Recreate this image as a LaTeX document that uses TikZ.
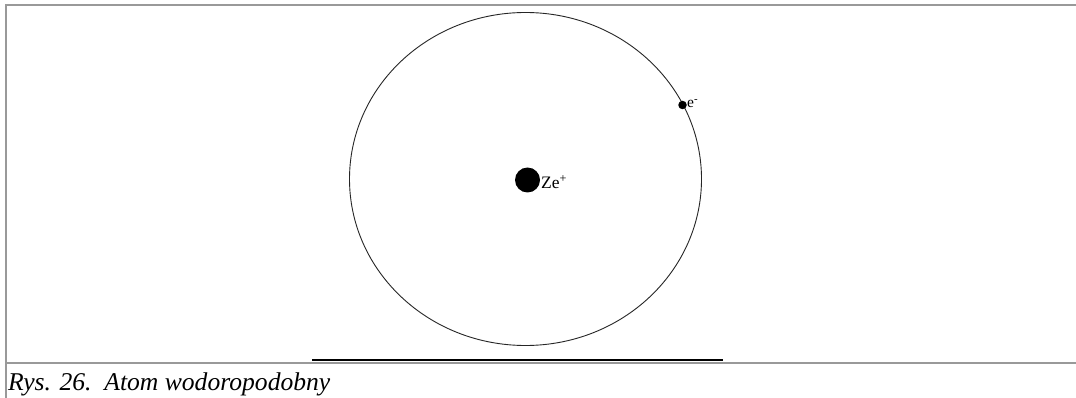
\documentclass[tikz,border=0pt]{standalone}
\usepackage{fontspec}
\setmainfont{Liberation Serif}
\begin{document}
\begin{tikzpicture}[x=1pt,y=-1pt,
  frame/.style={draw=black!40,line width=2pt},
  orbit/.style={draw=black!85,line width=0.9pt},
  particle/.style={circle,fill=black,inner sep=0pt},
  lbl/.style={inner sep=0pt,anchor=base west}]
\useasboundingbox (0,0) rectangle (1076,398);
\fill[white] (0,0) rectangle (1076,398);
% frame
\coordinate (tl) at (6,5);
\coordinate (tr) at (1076,5);
\coordinate (bl) at (6,398);
\coordinate (ml) at (6,362.5);
\coordinate (mr) at (1076,362.5);
\draw[frame] (tr) -- (tl) -- (bl);
\draw[frame] (ml) -- (mr);
% orbit
\coordinate (c) at (525.5,179);
\draw[orbit] (c) ellipse [x radius=176, y radius=166.5];
% nucleus
\node[particle,minimum size=25pt] (nuc) at (527.5,180) {};
\node[lbl,font=\fontsize{17.5}{19}\selectfont] (zl) at (541,189) {Ze\textsuperscript{+}};
% electron
\node[particle,minimum size=8.5pt] (el) at (682.5,105) {};
\node[lbl,font=\fontsize{15.5}{17}\selectfont] (elab) at (687,108) {e\textsuperscript{-}};
% base line
\coordinate (b1) at (312,360);
\coordinate (b2) at (723,360);
\draw[line width=2pt] (b1) -- (b2);
% caption
\node[lbl,font=\itshape\fontsize{25.6}{28}\selectfont] (cap) at (8,390) {Rys. 26.\ \ Atom wodoropodobny};
\end{tikzpicture}
\end{document}
